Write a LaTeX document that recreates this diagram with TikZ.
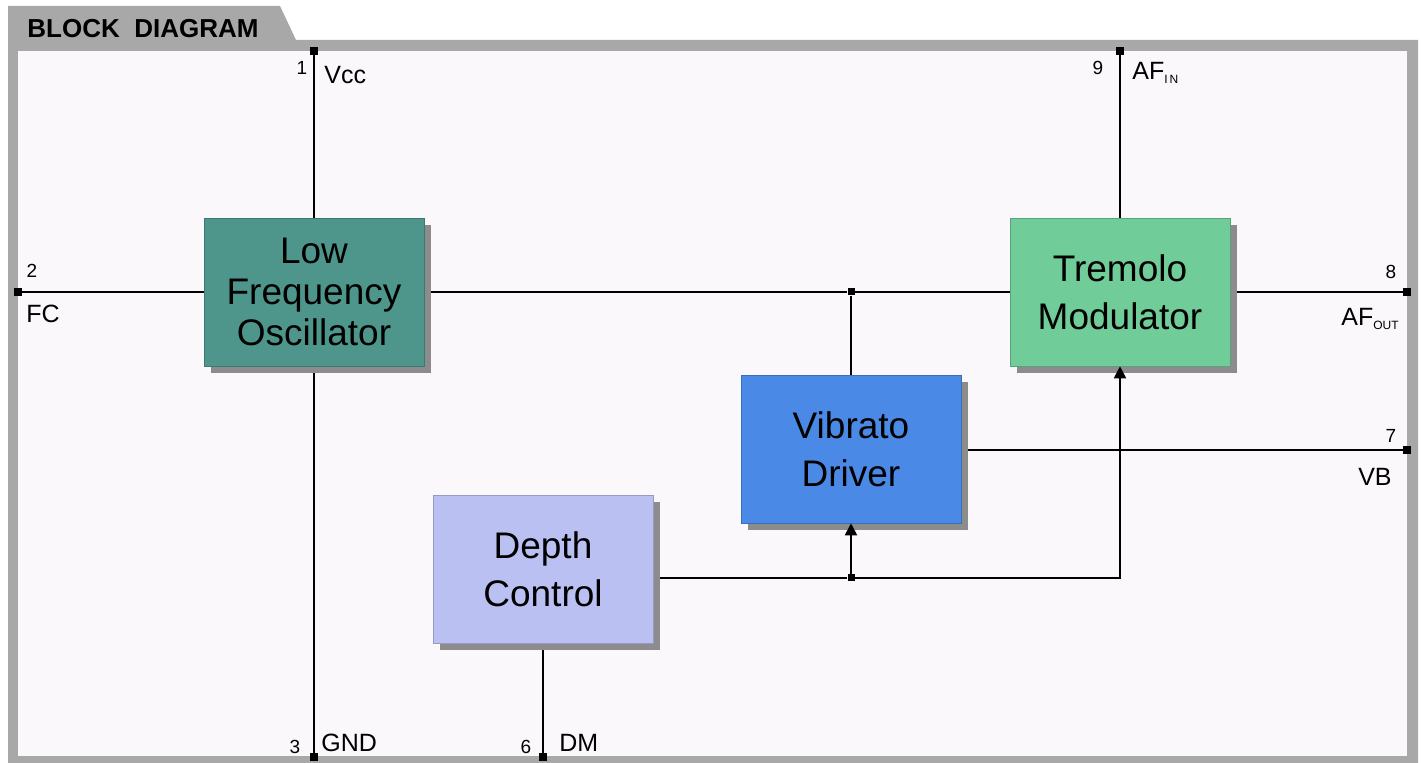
\documentclass[tikz,border=0pt]{standalone}
\usepackage{fontspec}
\setmainfont{Liberation Sans}
\usetikzlibrary{arrows.meta, positioning, shadows, backgrounds}
\definecolor{framegray}{RGB}{168,168,168}
\definecolor{paper}{RGB}{250,248,250}
\definecolor{shadowgray}{RGB}{140,140,140}
\definecolor{lfocol}{RGB}{78,150,140}
\definecolor{tremcol}{RGB}{112,204,152}
\definecolor{vibcol}{RGB}{74,138,230}
\definecolor{depcol}{RGB}{186,192,242}

\begin{document}
\begin{tikzpicture}[x=0.5pt,y=-0.5pt,
    block/.style={minimum width=110pt, minimum height=74pt, inner sep=0pt, align=center,
        font=\fontsize{18.5}{24}\selectfont,
        drop shadow={shadow xshift=3.5pt, shadow yshift=-3.5pt, fill=shadowgray, opacity=1}},
    pindot/.style={fill=black, minimum size=4pt, inner sep=0pt},
    wire/.style={line width=0.9pt},
    lbl/.style={font=\fontsize{12.5}{12.5}\selectfont, inner sep=0pt},
    num/.style={font=\fontsize{9.5}{9.5}\selectfont, inner sep=0pt},
    tip/.style={wire, -{Triangle[length=6pt, width=6pt]}}]
\useasboundingbox (0,0) rectangle (1421,763);
% === FRAME with title tab ===
\begin{scope}[on background layer]
    \fill[framegray] (8,6) -- (280,6) -- (296,40) -- (1418,40) -- (1418,763) -- (8,763) -- cycle;
    \fill[paper] (18,51) rectangle (1407,756);
\end{scope}
\node[font=\bfseries\fontsize{13}{13}\selectfont, anchor=west, inner sep=0pt] (title) at (27,29) {BLOCK\ \ DIAGRAM};
% === BLOCKS ===
\node[block, fill=lfocol, draw=lfocol!80!black, line width=0.3pt, font=\fontsize{18.5}{20.5}\selectfont] (lfo) at (314,292) {Low\\Frequency\\Oscillator};
\node[block, fill=tremcol, draw=tremcol!80!black, line width=0.3pt] (trem) at (1120,292) {Tremolo\\Modulator};
\node[block, fill=vibcol, draw=vibcol!80!black, line width=0.3pt] (vib) at (851,449) {Vibrato\\Driver};
\node[block, fill=depcol, draw=depcol!80!black, line width=0.3pt] (dep) at (543,569) {Depth\\Control};
% === PINS ===
\node[pindot] (p1) at (314,51) {};
\node[pindot] (p9) at (1120,51) {};
\node[pindot] (p2) at (18,292) {};
\node[pindot] (p8) at (1407,292) {};
\node[pindot] (p7) at (1407,450) {};
\node[pindot] (p3) at (314,757) {};
\node[pindot] (p6) at (543,757) {};
\node[pindot, minimum size=3.5pt] (j1) at (851,292) {};
\node[pindot, minimum size=3.5pt] (j2) at (851,578) {};
% pin labels
\node[num] (n1) at (302,68) {1};
\node[lbl, anchor=west] (vcc) at (324,75) {Vcc};
\node[num] (n9) at (1098,68) {9};
\node[lbl, anchor=west] (afin) at (1132,73) {AF{\fontsize{6}{6}\selectfont\raisebox{-2pt}{I\,N}}};
\node[num] (n2) at (32,271) {2};
\node[lbl, anchor=west] (fc) at (26,314) {FC};
\node[num] (n8) at (1391,272) {8};
\node[lbl, anchor=east] (afout) at (1399,319) {AF{\fontsize{6}{6}\selectfont\raisebox{-2pt}{OUT}}};
\node[num] (n7) at (1391,436) {7};
\node[lbl, anchor=east] (vb) at (1392,477) {VB};
\node[num] (n3) at (295,747) {3};
\node[lbl, anchor=west] (gnd) at (321,743) {GND};
\node[num] (n6) at (526,747) {6};
\node[lbl, anchor=west] (dm) at (559,743) {DM};
% === WIRES ===
\begin{scope}[on background layer]
    \draw[wire] (p1) -- (lfo.north);
    \draw[wire] (lfo.south) -- (p3);
    \draw[wire] (p2) -- (lfo.west);
    \draw[wire] (lfo.east) -- (j1) -- (trem.west);
    \draw[wire] (trem.east) -- (p8);
    \draw[wire] (p9) -- (trem.north);
    \draw[wire] (j1) -- (vib.north);
    \draw[wire] (vib.east |- p7) -- (p7);
    \draw[wire] (dep.east |- j2) -- (j2);
    \draw[wire] (dep.south) -- (p6);
\end{scope}
\draw[tip] (j2) -- (vib.south);
\draw[tip] (j2) -| (trem.south);
\end{tikzpicture}
\end{document}
